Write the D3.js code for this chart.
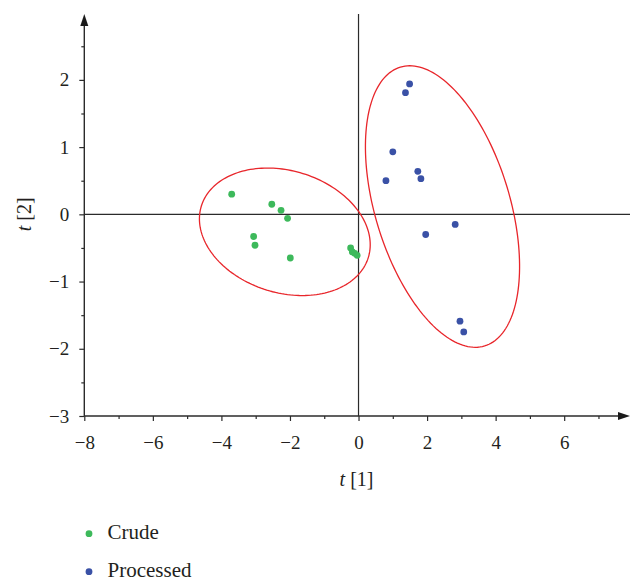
<!DOCTYPE html>
<html>
<head>
<meta charset="utf-8">
<script src="https://cdn.jsdelivr.net/npm/d3@7"></script>
<style>
	body { margin: 0; background: #fff; }
	svg { display: block; }
</style>
</head>
<body>
<div id="vizHolder"></div>
<script>
// scores plot, t[1] vs t[2]
var crudeX = [-3.70, -2.53, -2.26, -2.07, -3.06, -3.02, -1.99, -0.23, -0.18, -0.11, -0.04],
		crudeY = [ 0.30,  0.15,  0.06, -0.06, -0.33, -0.46, -0.65, -0.50, -0.56, -0.58, -0.61];

var processedX = [1.49, 1.37, 1.00, 1.73, 1.82, 0.80, 2.82, 1.96, 2.96, 3.07],
		processedY = [1.94, 1.81, 0.93, 0.64, 0.53, 0.50, -0.15, -0.30, -1.59, -1.75];

// ellipse: centre, then two conjugate semi-axis vectors, all in data units
var crudeEllipse     = { c: [-2.15, -0.26], u: [2.435, -0.384], v: [-0.527, -0.867] },
		processedEllipse = { c: [ 2.45,  0.116], u: [1.229, -2.074], v: [-1.883, -0.290] };

var xMajor = [-8, -6, -4, -2, 0, 2, 4, 6],
		xMinor = [-7, -5, -3, -1, 1, 3, 5, 7],
		yMajor = [-3, -2, -1, 0, 1, 2],
		yMinor = [-2.5, -1.5, -0.5, 0.5, 1.5, 2.5];

var groups = ['Crude', 'Processed'],
		colors = ['#3db95b', '#3a51a6'];

var width = 630,
		height = 579,
		serif = "'Liberation Serif', 'Times New Roman', serif",
		textColor = '#231f20',
		axisColor = '#2b2b2b',
		ellipseColor = '#e8262b';

var svg = d3.select('#vizHolder')
				.append('svg')
				.attr('width', width)
				.attr('height', height)
				.style('font-family', serif);

var xScale = d3.scaleLinear().domain([-8, 7.92]).range([84.3, 630]),
		yScale = d3.scaleLinear().domain([-3, 2.98]).range([416, 14]),
		intFmt = d3.format('d');

/* ----------- AXES ----------- */
svg.append('g')
		.attr('transform', 'translate(0,' + yScale(-3) + ')')
		.call(d3.axisBottom(xScale).tickValues(xMajor).tickSize(5).tickPadding(14.5).tickFormat(intFmt));

svg.append('g')
		.attr('transform', 'translate(0,' + yScale(-3) + ')')
		.call(d3.axisBottom(xScale).tickValues(xMinor).tickSize(3).tickFormat(''));

svg.append('g')
		.attr('transform', 'translate(' + xScale(-8) + ',0)')
		.call(d3.axisLeft(yScale).tickValues(yMajor).tickSize(5).tickPadding(10).tickFormat(intFmt));

svg.append('g')
		.attr('transform', 'translate(' + xScale(-8) + ',0)')
		.call(d3.axisLeft(yScale).tickValues(yMinor).tickSize(3).tickFormat(''));

svg.selectAll('.domain').remove();
svg.selectAll('.tick line').attr('stroke', axisColor).attr('stroke-width', 1.2);
svg.selectAll('.tick text')
		.style('font-family', serif)
		.attr('font-size', 19)
		.attr('fill', textColor);

var x0 = xScale.range()[0], x1 = xScale.range()[1],
		yb = yScale.range()[0], yt = yScale.range()[1];

// axis lines + zero lines
svg.append('line')
		.attr('x1', x0).attr('x2', x1 - 10)
		.attr('y1', yb).attr('y2', yb)
		.attr('stroke', axisColor).attr('stroke-width', 1.4);
svg.append('line')
		.attr('x1', x0).attr('x2', x0)
		.attr('y1', yb).attr('y2', yt + 10)
		.attr('stroke', axisColor).attr('stroke-width', 1.4);
svg.append('line')
		.attr('x1', x0).attr('x2', x1)
		.attr('y1', yScale(0)).attr('y2', yScale(0))
		.attr('stroke', axisColor).attr('stroke-width', 1.2);
svg.append('line')
		.attr('x1', xScale(0)).attr('x2', xScale(0))
		.attr('y1', yb).attr('y2', yt)
		.attr('stroke', axisColor).attr('stroke-width', 1.2);

// arrow heads
svg.append('path')
		.attr('d', 'M' + x1 + ',' + yb + 'L' + (x1 - 12) + ',' + (yb - 4) + 'L' + (x1 - 12) + ',' + (yb + 4) + 'Z')
		.attr('fill', '#1a1a1a');
svg.append('path')
		.attr('d', 'M' + x0 + ',' + yt + 'L' + (x0 - 4) + ',' + (yt + 12) + 'L' + (x0 + 4) + ',' + (yt + 12) + 'Z')
		.attr('fill', '#1a1a1a');

/* ----------- AXIS TITLES ----------- */
var xTitle = svg.append('text')
		.attr('x', xScale(0) - 2)
		.attr('y', 486)
		.attr('text-anchor', 'middle')
		.style('font-family', serif)
		.attr('font-size', 20)
		.attr('fill', textColor);
xTitle.append('tspan').attr('font-style', 'italic').text('t');
xTitle.append('tspan').text(' [1]');

var yTitle = svg.append('text')
		.attr('transform', 'translate(31,' + yScale(0) + ') rotate(-90)')
		.attr('text-anchor', 'middle')
		.style('font-family', serif)
		.attr('font-size', 20)
		.attr('fill', textColor);
yTitle.append('tspan').attr('font-style', 'italic').text('t');
yTitle.append('tspan').text(' [2]');

/* ----------- ELLIPSES ----------- */
var ellipseLine = d3.line()
		.x(function(d){ return xScale(d[0]); })
		.y(function(d){ return yScale(d[1]); })
		.curve(d3.curveLinearClosed);

function ellipsePoints(e){
	return d3.range(0, 2 * Math.PI, Math.PI / 90).map(function(t){
		return [
			e.c[0] + e.u[0] * Math.cos(t) + e.v[0] * Math.sin(t),
			e.c[1] + e.u[1] * Math.cos(t) + e.v[1] * Math.sin(t)
		];
	});
}

svg.selectAll('path.ellipse')
		.data([crudeEllipse, processedEllipse])
		.enter()
		.append('path')
		.attr('class', 'ellipse')
		.attr('fill', 'none')
		.attr('stroke', ellipseColor)
		.attr('stroke-width', 1.3)
		.attr('d', function(d){ return ellipseLine(ellipsePoints(d)); });

/* ----------- POINTS ----------- */
var series = [
	crudeX.map(function(x, i){ return { x: x, y: crudeY[i] }; }),
	processedX.map(function(x, i){ return { x: x, y: processedY[i] }; })
];

series.forEach(function(pts, k){
	svg.selectAll('circle.s' + k)
			.data(pts)
			.enter()
			.append('circle')
			.attr('class', 's' + k)
			.attr('cx', function(d){ return xScale(d.x); })
			.attr('cy', function(d){ return yScale(d.y); })
			.attr('r', 3.4)
			.attr('fill', colors[k]);
});

/* ----------- LEGEND ----------- */
var legend = svg.selectAll('g.legend')
		.data(groups)
		.enter()
		.append('g')
		.attr('class', 'legend')
		.attr('transform', function(d, i){ return 'translate(89,' + (533.7 + i * 38) + ')'; });

legend.append('circle')
		.attr('r', 3.4)
		.attr('fill', function(d, i){ return colors[i]; });

legend.append('text')
		.attr('x', 18.5)
		.attr('y', 4.8)
		.style('font-family', serif)
		.attr('font-size', 21)
		.attr('fill', textColor)
		.text(function(d){ return d; });
</script>
</body>
</html>
